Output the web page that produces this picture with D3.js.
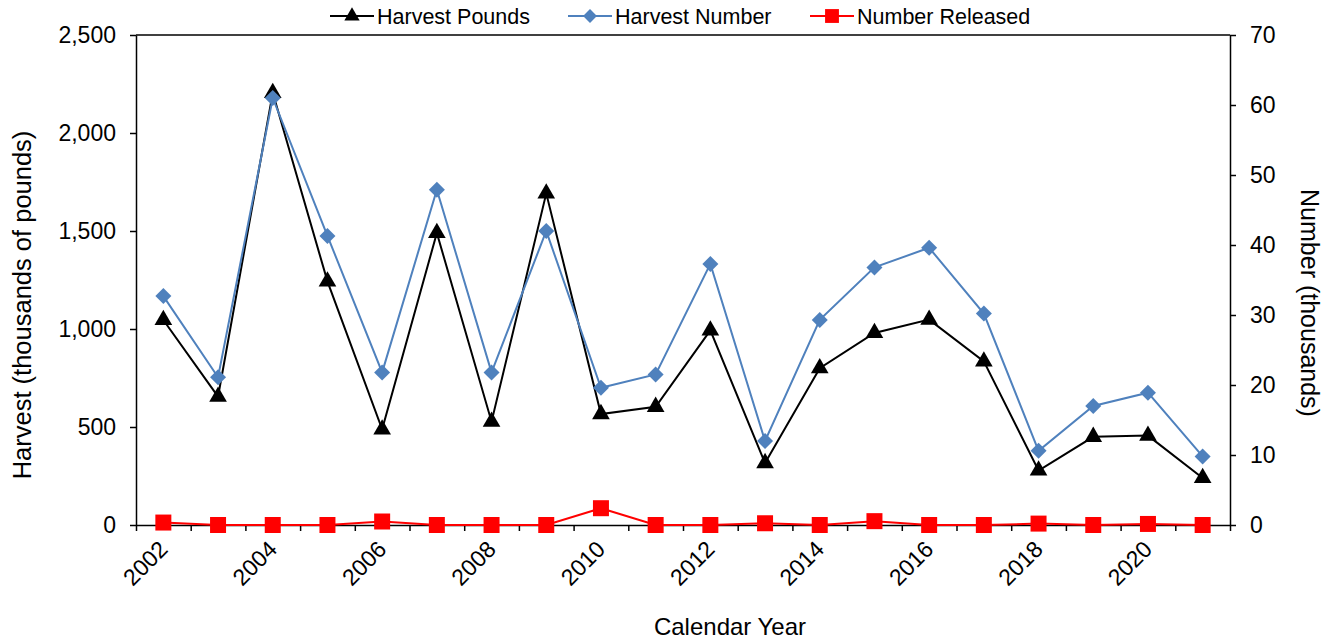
<html>
<head>
    <style>
        body { margin: 0; background: #ffffff; font-family: Arial, "Liberation Sans", sans-serif; }
        svg { display: block; }
        .eje path, .eje line { stroke: #000000; stroke-width: 1.5px; }
        .eje text { font-family: Arial, "Liberation Sans", sans-serif; fill: #000000; }
    </style>
    <script src="https://cdn.jsdelivr.net/npm/d3@7"></script>
</head>
<body>
<svg id="Grafico"></svg>
<script>
    // datos
    let anios = [2002, 2003, 2004, 2005, 2006, 2007, 2008, 2009, 2010, 2011,
                 2012, 2013, 2014, 2015, 2016, 2017, 2018, 2019, 2020, 2021];
    let harvestPounds = [1046, 655, 2205, 1243, 488, 1490, 527, 1692, 566, 603,
                         993, 316, 800, 980, 1048, 835, 278, 450, 456, 240];
    let harvestNumber = [32.7, 21.1, 61.0, 41.3, 21.8, 47.9, 21.8, 42.0, 19.6, 21.5,
                         37.3, 12.0, 29.3, 36.8, 39.6, 30.2, 10.6, 17.0, 18.9, 9.8];
    let numberReleased = [0.35, 0, 0, 0, 0.5, 0, 0, 0, 2.4, 0,
                          0, 0.25, 0, 0.55, 0, 0, 0.2, 0, 0.15, 0];
    let ticksIzq = [0, 500, 1000, 1500, 2000, 2500];
    let ticksDer = [0, 10, 20, 30, 40, 50, 60, 70];
    let etiquetasX = [2002, 2004, 2006, 2008, 2010, 2012, 2014, 2016, 2018, 2020];
    let series = ["Harvest Pounds", "Harvest Number", "Number Released"];

    function configuracion() {
        let ancho = 1341;
        let alto = 642;
        let margenes = { top: 35, bottom: 117, left: 136, right: 111 };
        let anchuraCuerpo = ancho - margenes.left - margenes.right;
        let alturaCuerpo = alto - margenes.top - margenes.bottom;
        let contenedor = d3.select("#Grafico").attr("width", ancho).attr("height", alto);
        return { ancho, alto, margenes, anchuraCuerpo, alturaCuerpo, contenedor };
    }

    function escalas(conf) {
        let { margenes, anchuraCuerpo, alturaCuerpo } = conf;
        let x = d3.scaleBand()
            .domain(anios)
            .range([margenes.left, margenes.left + anchuraCuerpo])
            .padding(0);
        // escala auxiliar para las marcas entre categorias
        let xLimites = d3.scaleLinear()
            .domain([0, anios.length])
            .range([margenes.left, margenes.left + anchuraCuerpo]);
        let yIzq = d3.scaleLinear()
            .domain([0, 2500])
            .range([margenes.top + alturaCuerpo, margenes.top]);
        let yDer = d3.scaleLinear()
            .domain([0, 70])
            .range([margenes.top + alturaCuerpo, margenes.top]);
        return { x, xLimites, yIzq, yDer };
    }

    function dibujarEjes(conf, esc) {
        let { contenedor, margenes, anchuraCuerpo, alturaCuerpo } = conf;
        let { x, xLimites, yIzq, yDer } = esc;
        let base = margenes.top + alturaCuerpo;

        // borde superior
        contenedor.append("line")
            .attr("x1", margenes.left).attr("x2", margenes.left + anchuraCuerpo)
            .attr("y1", margenes.top).attr("y2", margenes.top)
            .attr("stroke", "#000").attr("stroke-width", 1.5);

        contenedor.append("g").attr("class", "eje")
            .attr("transform", `translate(${margenes.left},0)`)
            .call(d3.axisLeft(yIzq).tickValues(ticksIzq).tickFormat(d3.format(",")).tickSize(6).tickSizeOuter(0).tickPadding(14))
            .selectAll("text").style("font-size", "23px");

        contenedor.append("g").attr("class", "eje")
            .attr("transform", `translate(${margenes.left + anchuraCuerpo},0)`)
            .call(d3.axisRight(yDer).tickValues(ticksDer).tickFormat(d3.format("d")).tickSize(6).tickSizeOuter(0).tickPadding(14))
            .selectAll("text").style("font-size", "23px");

        contenedor.append("g").attr("class", "eje")
            .attr("transform", `translate(0,${base})`)
            .call(d3.axisBottom(xLimites).tickValues(d3.range(anios.length + 1)).tickFormat("").tickSize(6).tickSizeOuter(0));

        let etiquetas = contenedor.append("g").attr("class", "eje")
            .attr("transform", `translate(0,${base})`)
            .call(d3.axisBottom(x).tickValues(etiquetasX).tickSize(0));
        etiquetas.select(".domain").remove();
        etiquetas.selectAll("text")
            .style("font-size", "23px")
            .attr("text-anchor", "end")
            .attr("y", 0).attr("dy", "0.35em")
            .attr("transform", "translate(0,20) rotate(-45)");

        // titulos
        contenedor.append("text")
            .attr("transform", `translate(31,305) rotate(-90)`)
            .attr("text-anchor", "middle")
            .style("font-size", "25.5px")
            .text("Harvest (thousands of pounds)");
        contenedor.append("text")
            .attr("transform", `translate(1301,303) rotate(90)`)
            .attr("text-anchor", "middle")
            .style("font-size", "25px")
            .text("Number (thousands)");
        contenedor.append("text")
            .attr("x", 730).attr("y", 635)
            .attr("text-anchor", "middle")
            .style("font-size", "24px")
            .text("Calendar Year");
    }

    let estilos = {
        "Harvest Pounds": { color: "#000000", simbolo: d3.symbolTriangle, area: 135, giro: 0 },
        "Harvest Number": { color: "#4F81BD", simbolo: d3.symbolSquare, area: 128, giro: 45 },
        "Number Released": { color: "#FF0000", simbolo: d3.symbolSquare, area: 256, giro: 0 }
    };

    function dibujarSerie(conf, esc, nombre, valores, y) {
        let { contenedor } = conf;
        let { x } = esc;
        let est = estilos[nombre];
        let centro = d => x(d) + x.bandwidth() / 2;
        let datos = anios.map((a, i) => ({ anio: a, valor: valores[i] }));

        let linea = d3.line().x(d => centro(d.anio)).y(d => y(d.valor));
        let g = contenedor.append("g");
        g.append("path")
            .datum(datos)
            .attr("d", linea)
            .attr("fill", "none")
            .attr("stroke", est.color)
            .attr("stroke-width", 2);

        g.selectAll(".marca")
            .data(datos)
            .enter().append("path")
            .attr("d", d3.symbol().type(est.simbolo).size(est.area))
            .attr("transform", d => `translate(${centro(d.anio)},${y(d.valor)}) rotate(${est.giro})`)
            .attr("fill", est.color);
    }

    function dibujarLeyenda(conf) {
        let { contenedor } = conf;
        let posiciones = [330, 568, 810];
        let yLey = 16;
        let ley = contenedor.append("g").selectAll("g")
            .data(series)
            .enter().append("g")
            .attr("transform", (d, i) => `translate(${posiciones[i]},${yLey})`);
        ley.append("line")
            .attr("x1", 0).attr("x2", 44)
            .attr("stroke", d => estilos[d].color)
            .attr("stroke-width", 2);
        ley.append("path")
            .attr("d", d => d3.symbol().type(estilos[d].simbolo).size(estilos[d].area * 0.75)())
            .attr("transform", d => `translate(22,0) rotate(${estilos[d].giro})`)
            .attr("fill", d => estilos[d].color);
        ley.append("text")
            .attr("x", 47).attr("dy", "0.35em")
            .style("font-size", "21.5px")
            .text(d => d);
    }

    let conf = configuracion();
    let esc = escalas(conf);
    dibujarEjes(conf, esc);
    dibujarSerie(conf, esc, "Harvest Pounds", harvestPounds, esc.yIzq);
    dibujarSerie(conf, esc, "Harvest Number", harvestNumber, esc.yDer);
    dibujarSerie(conf, esc, "Number Released", numberReleased, esc.yDer);
    dibujarLeyenda(conf);
</script>
</body>
</html>
